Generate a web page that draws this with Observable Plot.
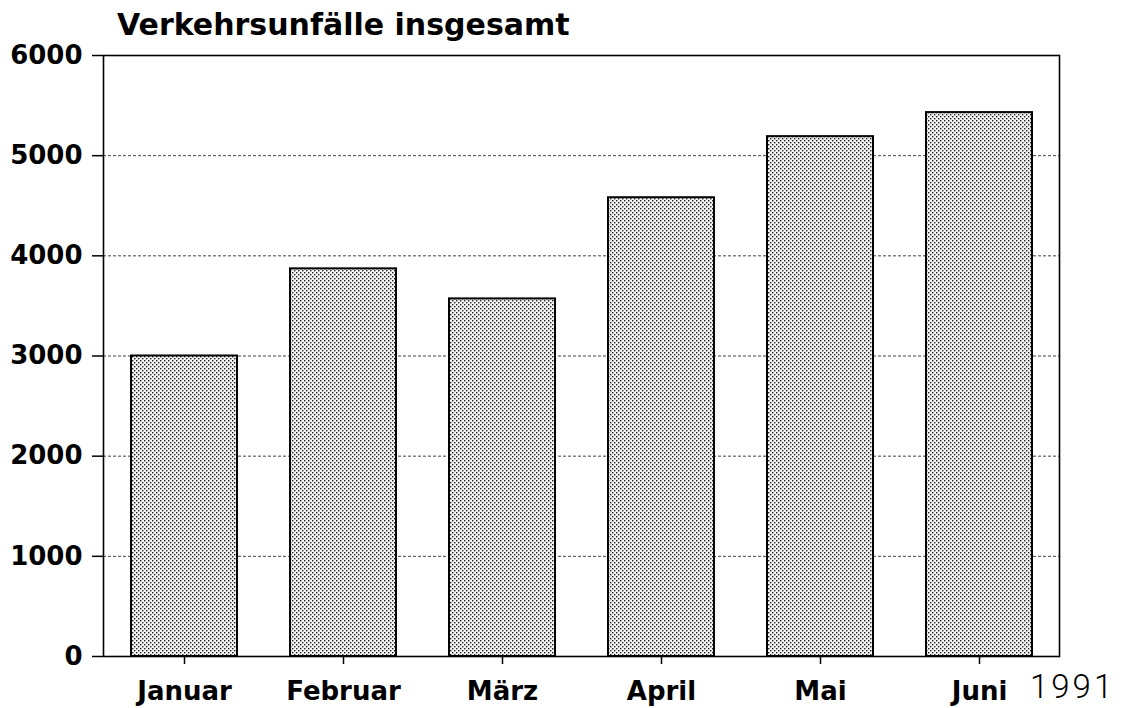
<!DOCTYPE html>
<html>
<head>
<meta charset="utf-8">
<script src="https://cdn.jsdelivr.net/npm/d3@7"></script>
<script src="https://cdn.jsdelivr.net/npm/@observablehq/plot@0.6"></script>
<style>
  html, body { margin: 0; padding: 0; background: #fff; }
  #wrap { position: relative; width: 1122px; height: 708px; overflow: hidden; }
  #title { position: absolute; left: 117px; top: 10px; font: bold 30px "DejaVu Sans", sans-serif; line-height: 30px; color: #000; white-space: nowrap; }
  #year { position: absolute; left: 1030px; top: 670px; font: 300 33px Roboto, sans-serif; letter-spacing: 3px; line-height: 33px; color: #000; white-space: nowrap; }
  svg { display: block; }
</style>
</head>
<body>
<div id="wrap">
  <div id="chart"></div>
  <div id="title">Verkehrsunfälle insgesamt</div>
  <div id="year">1991</div>
</div>
<script>
const months = ["Januar", "Februar", "März", "April", "Mai", "Juni"];
const accidents = [3000, 3870, 3570, 4580, 5190, 5430];
const yTicks = [0, 1000, 2000, 3000, 4000, 5000, 6000];
const gridTicks = [1000, 2000, 3000, 4000, 5000];

const data = months.map((m, i) => ({month: m, value: accidents[i]}));

const plot = Plot.plot({
  width: 1122,
  height: 708,
  marginTop: 55,
  marginBottom: 52,
  marginLeft: 103,
  marginRight: 63,
  style: {fontFamily: "'DejaVu Sans', sans-serif", fontWeight: "bold", fontSize: "26px", color: "#000", background: "transparent"},
  x: {type: "band", domain: months, paddingInner: 0.335, paddingOuter: 0.166, label: null},
  y: {domain: [0, 6000], label: null},
  marks: [
    Plot.gridY(gridTicks, {stroke: "#222", strokeOpacity: 0.85, strokeWidth: 1, strokeDasharray: "3,2"}),
    Plot.barY(data, {x: "month", y: "value", fill: "url(#stipple)", stroke: "#000", strokeWidth: 2}),
    Plot.frame({stroke: "#000", strokeWidth: 1.6}),
    Plot.axisY(yTicks, {tickSize: 11, tickPadding: 10, tickFormat: d => String(d), fontSize: 26, fontWeight: "bold", strokeWidth: 1.5}),
    Plot.axisX({tickSize: 8, tickPadding: 17, fontSize: 26, fontWeight: "bold", strokeWidth: 1.5})
  ]
});

const svg = d3.select(plot);
const defs = svg.insert("defs", ":first-child");
const pat = defs.append("pattern")
  .attr("id", "stipple")
  .attr("patternUnits", "userSpaceOnUse")
  .attr("width", 4).attr("height", 4);
pat.append("rect").attr("width", 4).attr("height", 4).attr("fill", "#f5f5f5");
pat.append("rect").attr("x", 0).attr("y", 0).attr("width", 1.4).attr("height", 1.4).attr("fill", "#222");
pat.append("rect").attr("x", 2).attr("y", 2).attr("width", 1.4).attr("height", 1.4).attr("fill", "#222");

document.getElementById("chart").appendChild(plot);
</script>
</body>
</html>
